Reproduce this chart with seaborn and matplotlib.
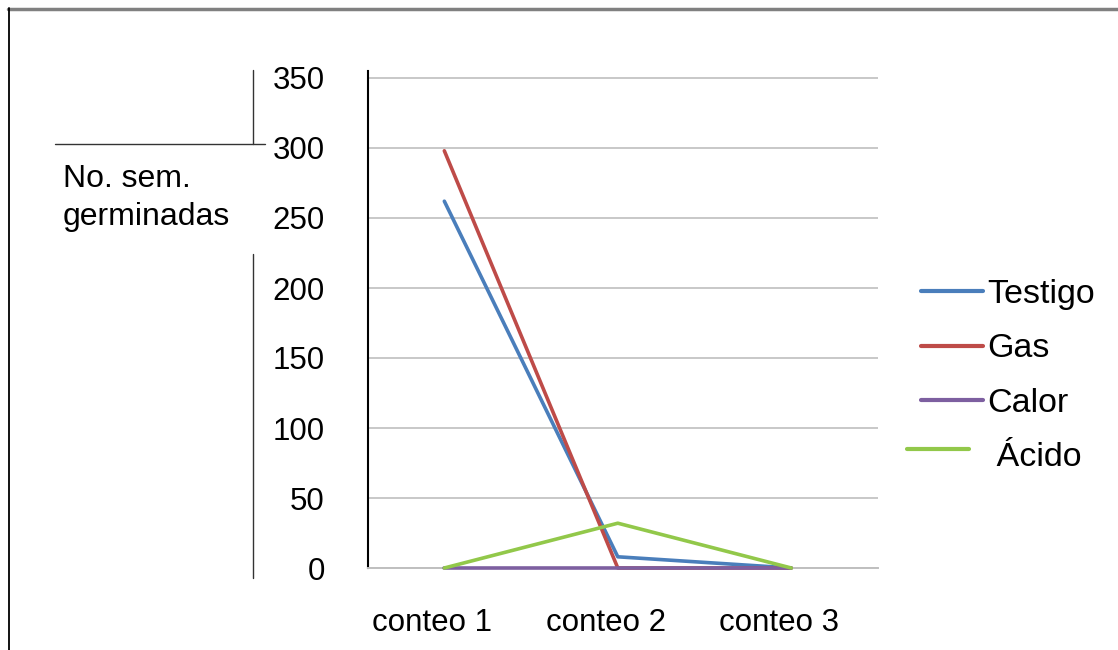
import matplotlib
matplotlib.use("Agg")
import matplotlib.pyplot as plt
import matplotlib.transforms as mtransforms
from matplotlib.lines import Line2D
import seaborn as sns
import pandas as pd

categories = ["conteo 1", "conteo 2", "conteo 3"]
testigo = [262, 8, 0]
gas = [298, 0, 0]
calor = [0, 0, 0]
acido = [0, 32, 0]
series_names = ["Testigo", "Gas", "Calor", "Ácido"]
y_ticks = [0, 50, 100, 150, 200, 250, 300, 350]
y_label = "No. sem.\ngerminadas"

colors = ["#4A7EBB", "#BE4B48", "#7D5FA0", "#92C84A"]

rows = []
for name, vals in zip(series_names, [testigo, gas, calor, acido]):
    for i, (c, v) in enumerate(zip(categories, vals)):
        rows.append({"pos": i, "conteo": c, "valor": v, "serie": name})
df = pd.DataFrame(rows)

sns.set_theme(style="white")
plt.rcParams['font.family'] = ['Liberation Sans', 'DejaVu Sans']
plt.rcParams['text.color'] = 'black'

W, H = 1118, 650
fig = plt.figure(figsize=(W / 100, H / 100), dpi=100)
ax = fig.add_axes([368 / W, 1 - 568 / H, (878 - 368) / W, (568 - 71) / H])

sns.lineplot(data=df, x="pos", y="valor", hue="serie", hue_order=series_names,
             palette=colors, linewidth=2.6, ax=ax, legend=False, sort=False)
for ln in ax.get_lines():
    ln.set_clip_on(False)
    ln.set_zorder(3)
    ln.set_solid_capstyle("round")

ax.set_xlim(-0.44, 2.5)
ax.set_ylim(0, 355)
ax.set_yticks(y_ticks)
ax.set_yticklabels([str(t) for t in y_ticks])
ax.yaxis.grid(True, color="#C8C8C8", linewidth=1.4)
ax.set_axisbelow(True)
ax.tick_params(axis="y", length=0, pad=31, labelsize=22.5, labelcolor="black")

ax.set_xticks([0, 1, 2])
ax.set_xticklabels(categories)
ax.tick_params(axis="x", which="major", length=0, pad=29, labelsize=22.5, labelcolor="black")
ax.set_xticks([0.5, 1.5, 2.5], minor=True)
ax.tick_params(axis="x", which="minor", length=8, width=1.2, color="#BFBFBF", direction="out")
offset = mtransforms.ScaledTranslation(-12 / 100, 0, fig.dpi_scale_trans)
for lbl in ax.get_xticklabels():
    lbl.set_transform(lbl.get_transform() + offset)

ax.set_xlabel("")
ax.set_ylabel("")
for s in ["top", "right"]:
    ax.spines[s].set_visible(False)
ax.spines["left"].set_color("black")
ax.spines["left"].set_linewidth(1.5)
ax.spines["bottom"].set_color("#BFBFBF")
ax.spines["bottom"].set_linewidth(1.4)

# y label text
fig.text(63 / W, 1 - 164 / H, y_label, fontsize=23, ha="left", va="top",
         linespacing=1.33, color="black")

# legend
handles = [Line2D([0], [0], color=c, linewidth=3) for c in colors]
labels = series_names[:3] + [" " + series_names[3]]
leg = fig.legend(handles, labels, loc="upper left",
                 bbox_to_anchor=(921 / W, 1 - 279 / H), frameon=False,
                 fontsize=24.5, handlelength=1.82, handletextpad=0.12,
                 labelspacing=0.69, borderpad=0, borderaxespad=0)
for t in leg.get_texts():
    t.set_color("black")
# the Ácido key sits a little left and higher in the original
acido_line = leg.get_lines()[3]
acido_line.set_xdata([x - 10 for x in acido_line.get_xdata()])
acido_line.set_ydata([y + 4.3 for y in acido_line.get_ydata()])

def fx(x):
    return x / W

def fy(y):
    return 1 - y / H

# decorative frame and label-box lines from the original
fig.add_artist(Line2D([fx(8), fx(1118)], [fy(9), fy(9)], color="#808080", linewidth=2.5))
fig.add_artist(Line2D([fx(9), fx(9)], [fy(8), fy(650)], color="black", linewidth=1.3))
fig.add_artist(Line2D([fx(253), fx(253)], [fy(70), fy(144)], color="#333333", linewidth=1))
fig.add_artist(Line2D([fx(55), fx(265)], [fy(144), fy(144)], color="#333333", linewidth=1))
fig.add_artist(Line2D([fx(253), fx(253)], [fy(254), fy(578)], color="#333333", linewidth=1))

fig.savefig("out.png", dpi=100, facecolor="white")
